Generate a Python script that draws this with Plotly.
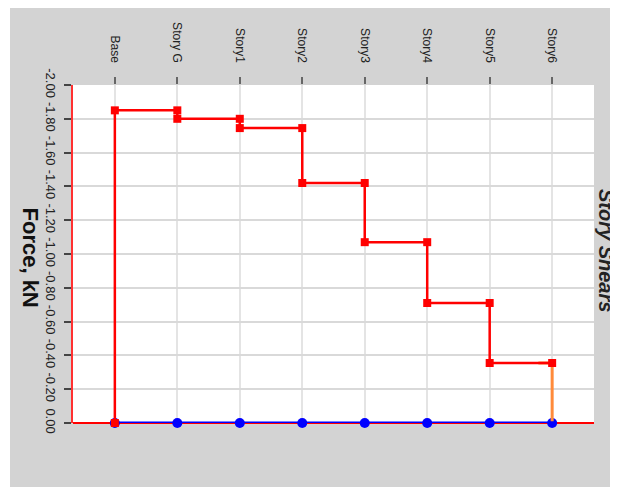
import plotly.graph_objects as go

stories = ["Base", "Story G", "Story1", "Story2", "Story3", "Story4", "Story5", "Story6"]
# Shear force in each segment between consecutive levels (kN)
segment_shear = [-1.85, -1.80, -1.745, -1.42, -1.07, -0.71, -0.355]
# Second series: all zero at every level
zero_series = [0, 0, 0, 0, 0, 0, 0, 0]
# Orange trace at the top level
orange_x = [6.78, 7, 7]
orange_y = [-0.355, -0.355, -0.01]
y_ticks = [-2.0, -1.8, -1.6, -1.4, -1.2, -1.0, -0.8, -0.6, -0.4, -0.2, 0.0]

xi = list(range(len(stories)))

# Build the stepped shear diagram from the segment values
step_x = [0]
step_y = [0]
for i, v in enumerate(segment_shear):
    step_x += [i, i + 1]
    step_y += [v, v]

fig = go.Figure()
fig.add_trace(go.Scatter(
    x=xi, y=zero_series, mode="lines+markers", cliponaxis=False,
    line=dict(color="#0000ff", width=3),
    marker=dict(symbol="circle", size=10, color="#0000ff"),
    showlegend=False))
fig.add_trace(go.Scatter(
    x=orange_x, y=orange_y, mode="lines",
    line=dict(color="#ff8a3a", width=3), showlegend=False))
fig.add_trace(go.Scatter(
    x=step_x, y=step_y, mode="lines+markers", cliponaxis=False,
    line=dict(color="#ff0000", width=2.5),
    marker=dict(symbol="square", size=8, color="#ff0000"),
    showlegend=False))

OFF = 8  # page body margin
W, H = 618 - OFF, 487 - OFF
L = 73 - OFF
T = 85 - OFF
R = W - (594 - OFF)
B = H - (423 - OFF)
pw, ph = W - L - R, H - T - B

def px_x(p):
    return (p - OFF - L) / pw

def px_y(p):
    return (H - B - (p - OFF)) / ph

fig.update_layout(
    width=W, height=H,
    margin=dict(l=L, r=R, t=T, b=B),
    paper_bgcolor="white", plot_bgcolor="white",
    font=dict(family="Liberation Sans, Arial, sans-serif", size=12, color="#222"),
    showlegend=False,
    shapes=[
        dict(type="rect", xref="paper", yref="paper",
             x0=px_x(10), x1=px_x(660), y0=px_y(540), y1=px_y(0),
             fillcolor="#d3d3d3", line=dict(width=0), layer="below"),
        dict(type="rect", xref="paper", yref="paper",
             x0=0, x1=1, y0=0, y1=1,
             fillcolor="white", line=dict(width=0), layer="below"),
    ],
    annotations=[
        dict(text="<b>Force, kN</b>", textangle=90, xref="paper", yref="paper",
             x=px_x(29.5), y=px_y(257), showarrow=False,
             font=dict(size=22, color="#111"), xanchor="center", yanchor="middle"),
        dict(text="<b><i>Story Shears</i></b>", textangle=90, xref="paper", yref="paper",
             x=px_x(606), y=px_y(250), showarrow=False,
             font=dict(size=20, color="#222"), xanchor="center", yanchor="middle"),
    ],
)

fig.update_xaxes(
    range=[-0.67, 7.67], side="top",
    tickmode="array", tickvals=xi, ticktext=stories, tickangle=90,
    ticks="outside", ticklen=7, tickcolor="#666", tickwidth=1.5,
    ticklabelstandoff=10,
    showgrid=True, gridcolor="#e4e4e4", gridwidth=2,
    zeroline=False, showline=False,
    tickfont=dict(size=12, color="#222"),
)
fig.update_yaxes(
    range=[0, -2], tickmode="array", tickvals=y_ticks,
    ticktext=[f"{v:.2f}" for v in y_ticks], tickangle=90,
    ticks="outside", ticklen=7, tickcolor="#444", tickwidth=1.5,
    ticklabelstandoff=3,
    showgrid=True, gridcolor="#d9d9d9", gridwidth=1.5,
    zeroline=True, zerolinecolor="#ff0000", zerolinewidth=1.5,
    showline=True, linecolor="#ff3030", linewidth=1.5,
    tickfont=dict(size=13, color="#222"),
)

fig.write_html("out.html")
